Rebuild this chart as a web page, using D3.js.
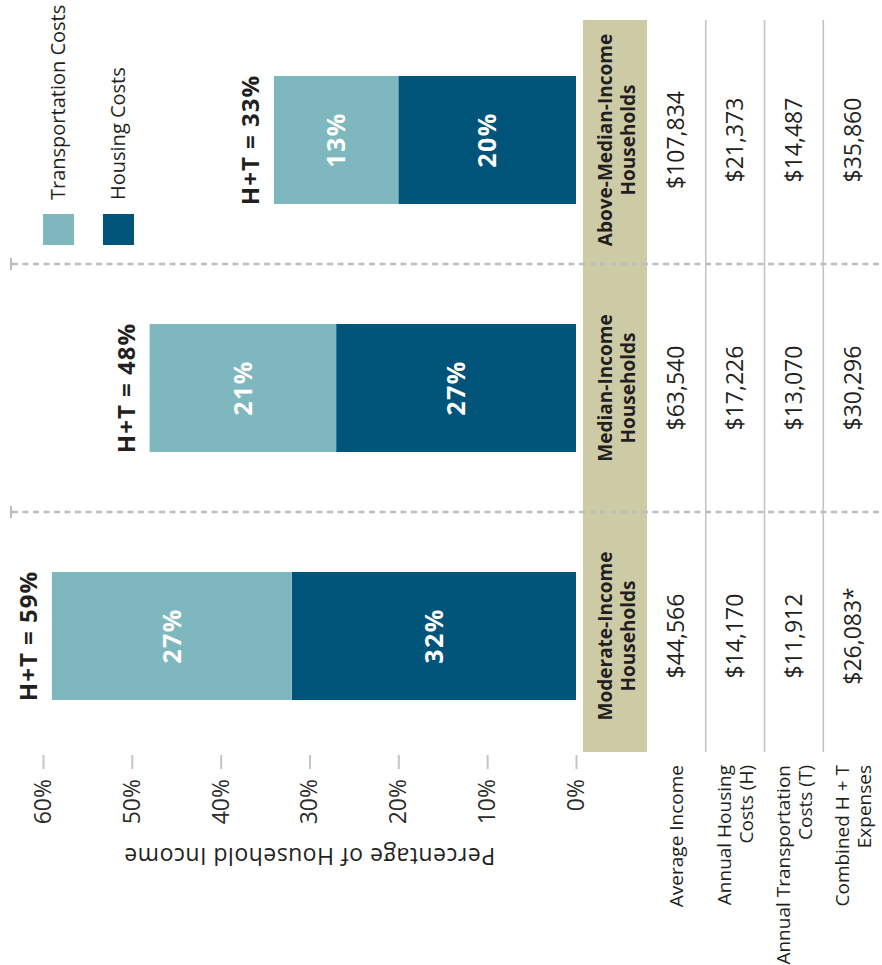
<!DOCTYPE html>
<meta charset="utf-8">
<head>
  <title>H+T costs by household income</title>
</head>

<style>
body {
  margin: 0;
  background: #fff;
}
svg {
  display: block;
  font-family: "Open Sans", sans-serif;
}
.tick line {
  stroke: #c4c4c4;
  stroke-width: 2;
}
.tick text {
  font-size: 23px;
  fill: #2b2b2b;
}
</style>

<body>
<svg width=882 height=965></svg>
<script src="https://cdnjs.cloudflare.com/ajax/libs/d3/7.8.5/d3.min.js"></script>
<script>
// chart is laid out unrotated (965 wide, 882 tall) and then turned 90deg ccw
var categories = ["Moderate-Income", "Median-Income", "Above-Median-Income"];
var housingShare = [32, 27, 20];
var transportShare = [27, 21, 14];
var housingLabels = ["32%", "27%", "20%"];
var transportLabels = ["27%", "21%", "13%"];
var totalLabels = ["H+T = 59%", "H+T = 48%", "H+T = 33%"];
var yTicks = [0, 10, 20, 30, 40, 50, 60];

var rowLabels = [["Average Income"], ["Annual Housing", "Costs (H)"],
  ["Annual Transportation", "Costs (T)"], ["Combined H + T", "Expenses"]];
var averageIncome = ["$44,566", "$63,540", "$107,834"];
var housingCost = ["$14,170", "$17,226", "$21,373"];
var transportCost = ["$11,912", "$13,070", "$14,487"];
var combinedCost = ["$26,083*", "$30,296", "$35,860"];

var legendItems = ["Transportation Costs", "Housing Costs"];

var colTransport = "#7eb7be",
    colHousing = "#00547a",
    colKhaki = "#cdcba6",
    colText = "#231f20";

var svg = d3.select("svg");
var g = svg.append("g").attr("transform", "translate(0,965) rotate(-90)");

var x = d3.scaleBand()
  .domain(categories)
  .range([205, 949])
  .paddingInner(120 / 248)
  .paddingOuter(60 / 248);

var y = d3.scaleLinear().domain([0, 60]).range([576, 43]);

// y axis
var axis = g.append("g")
  .attr("transform", "translate(210,0)")
  .call(d3.axisLeft(y).tickValues(yTicks).tickSize(14).tickPadding(10)
    .tickFormat(function(d){ return d + "%"; }));
axis.select(".domain").remove();
axis.selectAll("text").attr("font-family", "Open Sans, sans-serif");

g.append("text")
  .attr("transform", "translate(117," + (y(30)) + ") rotate(-90)")
  .attr("text-anchor", "middle")
  .attr("font-size", 23)
  .attr("letter-spacing", 0.5)
  .attr("fill", colText)
  .text("Percentage of Household Income");

// table
var rows = d3.scaleBand().domain(d3.range(rowLabels.length)).range([647, 882]);

g.append("rect")
  .attr("x", 213).attr("y", 583)
  .attr("width", 732).attr("height", 64)
  .attr("fill", colKhaki);

g.selectAll(".rowline")
  .data(d3.range(1, rowLabels.length))
  .enter()
  .append("line")
  .attr("x1", 213).attr("x2", 945)
  .attr("y1", function(d){ return rows(d); })
  .attr("y2", function(d){ return rows(d); })
  .attr("stroke", "#c4c4c4")
  .attr("stroke-width", 1.6);

// separators between groups
var seps = categories.slice(1).map(function(c){ return x(c) - (x.step() - x.bandwidth()) / 2; });
g.selectAll(".sep")
  .data(seps)
  .enter()
  .append("line")
  .attr("x1", function(d){ return d; })
  .attr("x2", function(d){ return d; })
  .attr("y1", 12).attr("y2", 882)
  .attr("stroke", "#bdbdbd")
  .attr("stroke-width", 2.5)
  .attr("stroke-dasharray", "6,4.5");
g.selectAll(".septick")
  .data(seps)
  .enter()
  .append("line")
  .attr("x1", function(d){ return d - 6; })
  .attr("x2", function(d){ return d + 6; })
  .attr("y1", 11).attr("y2", 11)
  .attr("stroke", "#bdbdbd")
  .attr("stroke-width", 2);

// bars
categories.forEach(function(c, i) {
  var h = housingShare[i], t = transportShare[i];
  g.append("rect")
    .attr("x", x(c)).attr("width", x.bandwidth())
    .attr("y", y(h)).attr("height", y(0) - y(h))
    .attr("fill", colHousing);
  g.append("rect")
    .attr("x", x(c)).attr("width", x.bandwidth())
    .attr("y", y(h + t)).attr("height", y(h) - y(h + t))
    .attr("fill", colTransport);

  var cx = x(c) + x.bandwidth() / 2;
  g.append("text")
    .attr("x", cx).attr("y", (y(0) + y(h)) / 2 + 9)
    .attr("text-anchor", "middle")
    .attr("font-size", 25).attr("font-weight", "bold")
    .attr("letter-spacing", 1.5)
    .attr("fill", "#fff")
    .text(housingLabels[i]);
  g.append("text")
    .attr("x", cx).attr("y", (y(h) + y(h + t)) / 2 + 9)
    .attr("text-anchor", "middle")
    .attr("font-size", 25).attr("font-weight", "bold")
    .attr("letter-spacing", 1.5)
    .attr("fill", "#fff")
    .text(transportLabels[i]);
  g.append("text")
    .attr("x", cx).attr("y", y(h + t) - 15)
    .attr("text-anchor", "middle")
    .attr("font-size", 24).attr("font-weight", "bold")
    .attr("letter-spacing", 1)
    .attr("fill", colText)
    .text(totalLabels[i]);

  // header cell
  var hd = g.append("text")
    .attr("text-anchor", "middle")
    .attr("font-size", 19).attr("font-weight", "bold")
    .attr("fill", colText);
  hd.append("tspan").attr("x", cx).attr("y", 612).text(c);
  hd.append("tspan").attr("x", cx).attr("y", 635).text("Households");

  [averageIncome, housingCost, transportCost, combinedCost].forEach(function(col, r) {
    g.append("text")
      .attr("x", cx)
      .attr("y", rows(r) + rows.bandwidth() / 2 + 8)
      .attr("text-anchor", "middle")
      .attr("font-size", 23)
      .attr("fill", colText)
      .text(col[i]);
  });
});

// row labels
rowLabels.forEach(function(lines, r) {
  var cy = rows(r) + rows.bandwidth() / 2;
  var t = g.append("text")
    .attr("text-anchor", "end")
    .attr("font-size", 19)
    .attr("fill", colText);
  lines.forEach(function(l, k) {
    t.append("tspan")
      .attr("x", 200)
      .attr("y", cy + 7 + (k - (lines.length - 1) / 2) * 22)
      .text(l);
  });
});

// legend
var legend = g.selectAll(".legend")
  .data(legendItems)
  .enter()
  .append("g")
  .attr("transform", function(d, i){ return "translate(720," + (43 + i * 60) + ")"; });
legend.append("rect")
  .attr("width", 31).attr("height", 31)
  .attr("fill", function(d, i){ return i === 0 ? colTransport : colHousing; });
legend.append("text")
  .attr("x", 45).attr("y", 22)
  .attr("font-size", 20)
  .attr("fill", colText)
  .text(function(d){ return d; });
</script>
</body>
</html>
